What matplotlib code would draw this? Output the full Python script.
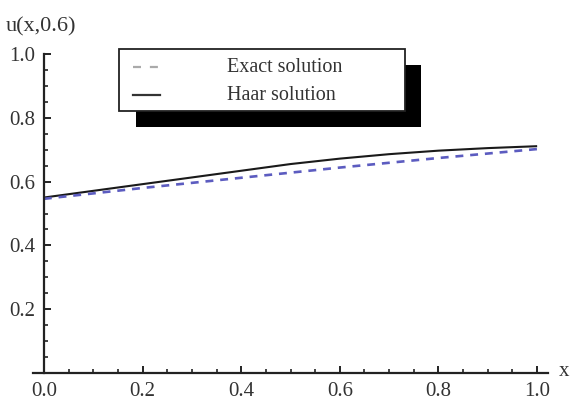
import matplotlib
matplotlib.use("Agg")
import matplotlib.pyplot as plt
from matplotlib.patches import Rectangle
from matplotlib.lines import Line2D
from matplotlib.ticker import MultipleLocator

# values
x_vals = [0.0, 0.1, 0.2, 0.3, 0.4, 0.5, 0.6, 0.7, 0.8, 0.9, 1.0]
u_exact = [0.546, 0.563, 0.580, 0.596, 0.612, 0.628, 0.644, 0.659, 0.674, 0.688, 0.702]
u_haar = [0.550, 0.571, 0.592, 0.613, 0.634, 0.655, 0.672, 0.686, 0.697, 0.705, 0.711]
series_labels = ['Exact solution', 'Haar solution']
x_ticks = [0.0, 0.2, 0.4, 0.6, 0.8, 1.0]
y_ticks = [0.2, 0.4, 0.6, 0.8, 1.0]

W, H = 573, 401
plt.rcParams['font.family'] = ['Liberation Serif', 'DejaVu Serif']
txt = '#333333'

fig = plt.figure(figsize=(W / 100, H / 100), dpi=100)


def fx(px):
    return px / W


def fy(py):
    return 1 - py / H


# axes spans x -0.022..1.022 (pixel 33..548), y 0..1 (pixel 373..54)
ax = fig.add_axes([fx(33), fy(373), fx(548) - fx(33), fy(54) - fy(373)])
ax.set_xlim(-0.022, 1.022)
ax.set_ylim(0, 1)

ax.plot(x_vals, u_haar, color='#1a1a1a', lw=1.5, solid_capstyle='butt')
ax.plot(x_vals, u_exact, color='#5c5cc0', lw=1.9, ls=(0, (3.0, 2.6)))

for s in ['top', 'right']:
    ax.spines[s].set_visible(False)
ax.spines['left'].set_position(('data', 0))
ax.spines['left'].set_bounds(0, 1)
ax.spines['bottom'].set_position(('data', 0))
for s in ['left', 'bottom']:
    ax.spines[s].set_linewidth(1.6)
    ax.spines[s].set_color('#222222')

ax.set_xticks(x_ticks)
ax.set_xticklabels([f'{v:.1f}' for v in x_ticks])
ax.set_yticks(y_ticks)
ax.set_yticklabels([f'{v:.1f}' for v in y_ticks])
ax.xaxis.set_minor_locator(MultipleLocator(0.05))
ax.yaxis.set_minor_locator(MultipleLocator(0.05))
ax.tick_params(which='major', direction='in', length=5, width=1.4, color='#222222',
               labelsize=15, labelcolor=txt)
ax.tick_params(which='minor', direction='in', length=3, width=1.2, color='#222222')
ax.tick_params(axis='x', pad=6.5)
ax.tick_params(axis='y', pad=6)

fig.text(fx(6), fy(27), 'u(x,0.6)', fontsize=16, color=txt, ha='left', va='center')
fig.text(fx(559), fy(371), 'x', fontsize=15, color=txt, ha='left', va='center')

# legend with a hard black drop shadow
fig.add_artist(Rectangle((fx(136), fy(127)), fx(421) - fx(136), fy(65) - fy(127),
                         transform=fig.transFigure, fc='black', ec='black', lw=0))
fig.add_artist(Rectangle((fx(119), fy(111)), fx(405) - fx(119), fy(49) - fy(111),
                         transform=fig.transFigure, fc='white', ec='#222222', lw=1.3))
fig.add_artist(Line2D([fx(133), fx(160)], [fy(67), fy(67)], transform=fig.transFigure,
                      color='#aaaaaa', lw=1.6, ls=(0, (3.6, 4.0))))
fig.add_artist(Line2D([fx(133), fx(160)], [fy(95), fy(95)], transform=fig.transFigure,
                      color='#333333', lw=1.6))
fig.text(fx(227), fy(67), series_labels[0], fontsize=14.5, color=txt, ha='left', va='center')
fig.text(fx(227), fy(95), series_labels[1], fontsize=14.5, color=txt, ha='left', va='center')

fig.savefig('out.png', dpi=100)
